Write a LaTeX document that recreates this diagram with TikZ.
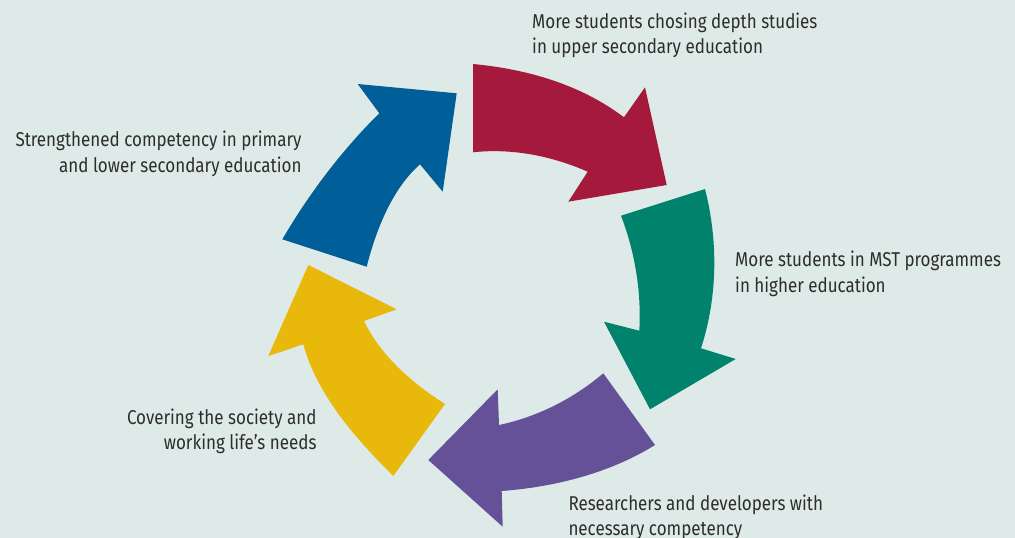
\documentclass[tikz,border=0pt]{standalone}
\usepackage{fontspec}
\setmainfont{Fira Sans}[FakeStretch=0.85]
\definecolor{bg}{RGB}{222,234,231}
\definecolor{cred}{RGB}{165,25,60}
\definecolor{cteal}{RGB}{0,130,108}
\definecolor{cpurple}{RGB}{100,81,151}
\definecolor{cyellow}{RGB}{232,185,10}
\definecolor{cblue}{RGB}{0,94,153}
\definecolor{ctext}{RGB}{45,45,45}
\tikzset{
  arrowshape/.style={line width=0pt},
  lbl/.style={inner sep=0pt, text=ctext, font=\fontsize{20}{25.5}\selectfont},
}
\newcommand{\twol}[3]{\begin{tabular}[t]{@{}#1@{}}#2\\#3\end{tabular}}
\begin{document}
\begin{tikzpicture}[x=1pt,y=-1pt]
\fill[bg] (0,0) rectangle (1015,538);
\useasboundingbox (0,0) rectangle (1015,538);
% red arrow
\fill[cred] (473,64) .. controls (526,69) and (580,84) .. (624,117.3)
  -- (645,87.3) -- (666.7,185) -- (568.3,201.7) -- (587.7,171.7)
  .. controls (552,156) and (512,148) .. (473,152.3) -- cycle;
% teal arrow
\fill[cteal] (705,189) -- (621,215.7)
  .. controls (635,252) and (641.5,292) .. (639.3,330.7)
  -- (604,321.7) -- (650,409.3) -- (735.7,359) -- (701,348.3)
  .. controls (718,296) and (718,240) .. (705,189) -- cycle;
% purple arrow
\fill[cpurple] (655,445) -- (603.3,373.3)
  .. controls (573,399) and (537,417) .. (499,425)
  -- (497.7,389.3) -- (428.3,460) -- (502.7,526.7) -- (501.7,491)
  .. controls (555,487) and (610,473) .. (655,445) -- cycle;
% yellow arrow
\fill[cyellow] (393.3,476) -- (445,404)
  .. controls (412,383) and (381,356) .. (364,321)
  -- (396.7,309.3) -- (308.3,265) -- (268.3,356) -- (303.3,344.3)
  .. controls (317,395) and (356,439) .. (393.3,476) -- cycle;
% blue arrow
\fill[cblue] (282.3,239.3) -- (366.7,266.7)
  .. controls (376,230) and (392,189) .. (420,164.3)
  -- (442.7,191.7) -- (456.7,93.3) -- (357.7,84) -- (379.3,113.3)
  .. controls (341,151) and (309,194) .. (282.3,239.3) -- cycle;
% labels
\node[lbl, anchor=base west] (t1) at (532,28.3) {\twol{l}{More students chosing depth studies}{in upper secondary education}};
\node[lbl, anchor=base west] (t2) at (735,266.7) {\twol{l}{More students in MST programmes}{in higher education}};
\node[lbl, anchor=base west] (t3) at (568.3,510) {\twol{l}{Researchers and developers with}{necessary competency}};
\node[lbl, anchor=base east] (t4) at (316.7,424.3) {\twol{r}{Covering the society and}{working life’s needs}};
\node[lbl, anchor=base east] (t5) at (301.7,146.7) {\twol{r}{Strengthened competency in primary}{and lower secondary education}};
\end{tikzpicture}
\end{document}
